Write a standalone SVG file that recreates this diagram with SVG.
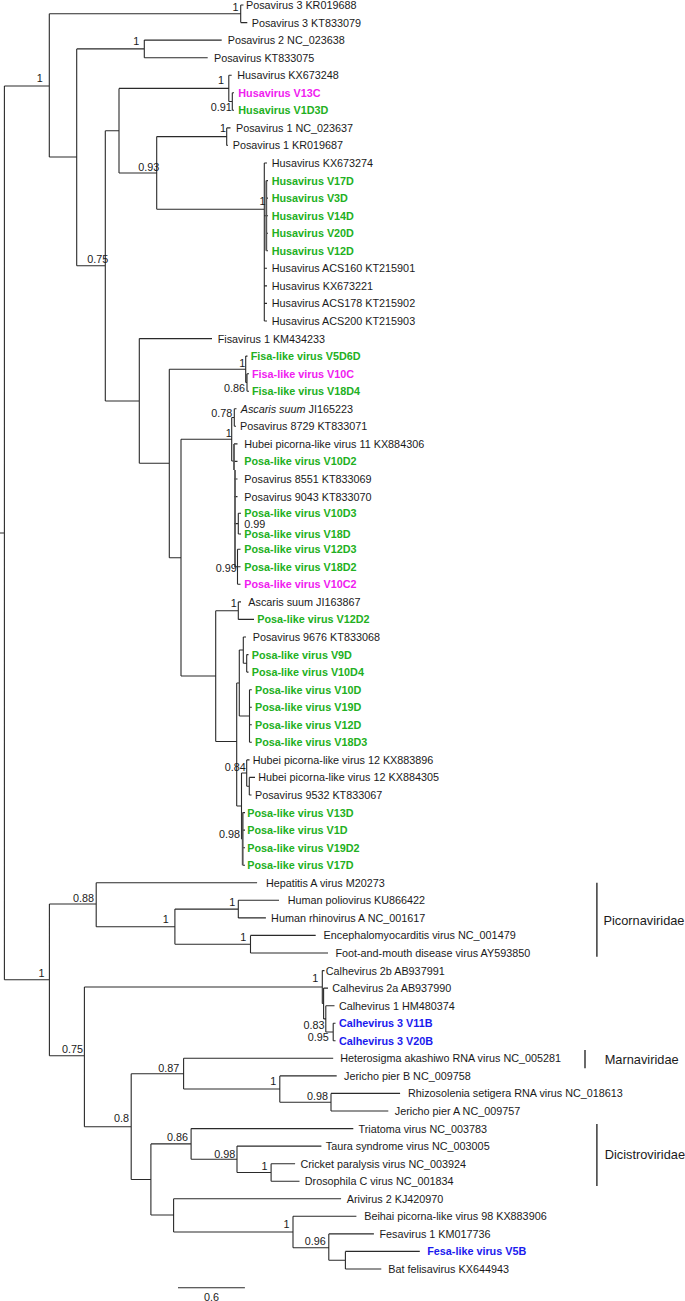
<svg xmlns="http://www.w3.org/2000/svg" width="685" height="1301" viewBox="0 0 685 1301">
<style>
text{font-family:"Liberation Sans",Arial,Helvetica,sans-serif;font-size:10.8px;fill:#1a1a1a}
.g{fill:#22b022;font-weight:bold}
.m{fill:#f020f0;font-weight:bold}
.b{fill:#1a1aee;font-weight:bold}
.s{text-anchor:end}
.fam{font-size:12.8px}
.br{fill:none;stroke:#2a2a2a;stroke-width:1.1}
.thick{fill:none;stroke:#555;stroke-width:1.8}
.bk{fill:none;stroke:#1a1a1a;stroke-width:1.3}
</style>
<rect width="685" height="1301" fill="#fff"/>
<g id="connectors">
<path class="br" d="
M0 533 H4.4 M4.4 86 V979.8
M4.4 86 H49.3 M49.3 13.7 V157
M49.3 13.7 H240.7 M240.7 5 V22.6 M240.7 5 H243.5 M240.7 22.6 H247.3
M49.3 157 H76.7 M76.7 48.9 V265.7
M76.7 48.9 H144.3 M144.3 40.1 V57.7 M144.3 40.1 H221.7 M144.3 57.7 H207.7
M76.7 265.7 H105.3 M105.3 130.7 V401
M105.3 130.7 H119 M119 88.4 V173
M119 88.4 H228.8 M228.8 75.2 V101.5 M228.8 75.2 H231.7
M228.8 101.5 H232.3 M232.3 92.8 V110.3 M232.3 92.8 H234 M232.3 110.3 H234
M119 173 H156.7 M156.7 136.6 V209.3
M156.7 136.6 H226.7 M226.7 127.9 V145.4 M226.7 127.9 H230.5 M226.7 145.4 H227.8
M156.7 209.3 H264.3 M264.3 163 V321
M264.3 163 H267 M264.3 215.7 H266.3 M266.3 180.6 H268 M266.3 198.1 H268 M266.3 215.7 H268 M266.3 233.2 H268 M266.3 250.8 H268
M264.3 268.3 H267 M264.3 285.9 H267 M264.3 303.4 H267 M264.3 321 H267
M105.3 401 H139.3 M139.3 338.6 V463.3 M139.3 338.6 H212
M139.3 463.3 H169.3 M169.3 369.3 V557.7
M169.3 369.3 H245.7 M245.7 356.1 V382.5 M245.7 356.1 H247.5
M245.7 382.5 H247 M247 373.7 V391.2 M247 373.7 H249 M247 391.2 H249
M169.3 557.7 H181 M181 439.3 V676
M181 439.3 H231.7 M231.7 417.5 V461
M231.7 417.5 H234.3 M234.3 408.8 V426.3 M234.3 408.8 H236.5 M234.3 426.3 H236
M231.7 461 H234 M234 443.9 H237.5 M234 461.4 H237.5 M234 479 H237.5 M234 496.6 H237.5
M234 523.6 H238.3 M238.3 513.3 V534 M238.3 513.3 H241 M238.3 534 H241
M234 566.8 H237.5 M237.5 549.2 V584.3 M237.5 549.2 H240.5 M237.5 566.8 H240.5 M237.5 584.3 H240.5
M181 676 H215.7 M215.7 610.7 V741.5
M215.7 610.7 H238.3 M238.3 601.9 V619.4 M238.3 601.9 H241 M238.3 619.4 H254
M215.7 741.5 H236.7 M236.7 683 V806
M236.7 683 H239.3 M239.3 650 V716
M239.3 650 H243.3 M243.3 637 V663.3 M243.3 637 H246
M243.3 663.3 H246.7 M246.7 654.6 V672.1 M246.7 654.6 H248.5 M246.7 672.1 H248.5
M239.3 716 H249.5 M249.5 689.7 V742.3 M249.5 689.7 H251.8 M249.5 707.2 H251.8 M249.5 724.8 H251.8 M249.5 742.3 H251.8
M236.7 806 H241.5 M241.5 773 V839
M241.5 773 H246.7 M246.7 759.9 V786.2 M246.7 759.9 H249.5
M246.7 786.2 H249.3 M249.3 777.4 V795 M249.3 777.4 H255 M249.3 795 H251.5
M241.5 839 H242.7 M242.7 812.6 H245 M242.7 830.1 H245 M242.7 847.7 H245 M242.7 865.2 H245
M4.4 979.8 H49.4 M49.4 904 V1055.7
M49.4 904 H96.2 M96.2 882.8 V926.7 M96.2 882.8 H257.1
M96.2 926.7 H174.9 M174.9 909.1 V944.2
M174.9 909.1 H238.3 M238.3 900.3 V917.9 M238.3 900.3 H279 M238.3 917.9 H265.9
M174.9 944.2 H250.5 M250.5 935.4 V953 M250.5 935.4 H315.7 M250.5 953 H328
M49.4 1055.7 H84.4 M84.4 987 V1126.7
M84.4 987 H322.3 M322.3 970.6 V1003.5 M322.3 970.6 H324.5
M322.3 1003.5 H323.6 M323.6 988.1 V1018.9 M323.6 988.1 H328
M323.6 1018.9 H325.8 M325.8 1005.7 V1032 M325.8 1005.7 H334.5
M325.8 1032 H333.2 M333.2 1023.2 V1040.8 M333.2 1023.2 H335.5 M333.2 1040.8 H335.5
M84.4 1126.7 H131.2 M131.2 1073.7 V1179.5
M131.2 1073.7 H183.6 M183.6 1058.3 V1089 M183.6 1058.3 H333.2
M183.6 1089 H279.8 M279.8 1075.9 V1102.2 M279.8 1075.9 H336.7
M279.8 1102.2 H331 M331 1093.4 V1111 M331 1093.4 H400.1 M331 1111 H388.3
M131.2 1179.5 H150.9 M150.9 1143.9 V1215
M150.9 1143.9 H191.1 M191.1 1128.6 V1159.3 M191.1 1128.6 H353.3
M191.1 1159.3 H237 M237 1146.1 V1172.5 M237 1146.1 H321.4
M237 1172.5 H271.1 M271.1 1163.7 V1181.2 M271.1 1163.7 H295.1 M271.1 1181.2 H299.5
M150.9 1215 H173.6 M173.6 1198.8 V1232 M173.6 1198.8 H341.1
M173.6 1232 H293 M293 1216.3 V1247.7 M293 1216.3 H356.4
M293 1247.7 H328.8 M328.8 1233.9 V1260.2 M328.8 1233.9 H373.9
M328.8 1260.2 H345.4 M345.4 1251.4 V1269 M345.4 1251.4 H419.8 M345.4 1269 H381.3
"/>
<path class="thick" d="M266.3 180.6 V250.8 M234 443.9 V470 M235 470 V566.8 M242.7 812.6 V865.2"/>
</g>
<g id="support-labels">
<text class="s" x="42.7" y="81.6">1</text>
<text class="s" x="238.5" y="10.9">1</text>
<text class="s" x="139.3" y="44.6">1</text>
<text class="s" x="224" y="83.9">1</text>
<text class="s" x="231.7" y="111.2">0.91</text>
<text class="s" x="226" y="131.6">1</text>
<text class="s" x="159.3" y="170.6">0.93</text>
<text class="s" x="265.5" y="204.9">1</text>
<text class="s" x="108.3" y="262.9">0.75</text>
<text class="s" x="245.2" y="367.2">1</text>
<text class="s" x="245" y="391.6">0.86</text>
<text class="s" x="232.3" y="416.6">0.78</text>
<text class="s" x="231.7" y="437.2">1</text>
<text x="244.3" y="527.6">0.99</text>
<text class="s" x="236.7" y="571.9">0.99</text>
<text class="s" x="236.7" y="607.2">1</text>
<text class="s" x="245.7" y="770.6">0.84</text>
<text class="s" x="240" y="838.2">0.98</text>
<text class="s" x="44.6" y="976.6">1</text>
<text class="s" x="94" y="902.2">0.88</text>
<text class="s" x="168.8" y="923.2">1</text>
<text class="s" x="235.2" y="905.6">1</text>
<text class="s" x="246.2" y="940.6">1</text>
<text class="s" x="318.3" y="981.9">1</text>
<text class="s" x="324.4" y="1028.9">0.83</text>
<text class="s" x="328.8" y="1041.2">0.95</text>
<text class="s" x="83.1" y="1053.2">0.75</text>
<text class="s" x="179.3" y="1071.6">0.87</text>
<text class="s" x="276.3" y="1084.6">1</text>
<text class="s" x="328" y="1099.6">0.98</text>
<text class="s" x="129" y="1122.2">0.8</text>
<text class="s" x="188" y="1141.2">0.86</text>
<text class="s" x="235.2" y="1157.9">0.98</text>
<text class="s" x="267.6" y="1169.9">1</text>
<text class="s" x="289.5" y="1227.9">1</text>
<text class="s" x="325.8" y="1244.9">0.96</text>
</g>
<g id="leaf-01"><text x="246" y="8.9">Posavirus 3 KR019688</text></g>
<g id="leaf-02"><text x="251.7" y="26.5">Posavirus 3 KT833079</text></g>
<g id="leaf-03"><text x="227.7" y="44">Posavirus 2 NC_023638</text></g>
<g id="leaf-04"><text x="214" y="61.6">Posavirus KT833075</text></g>
<g id="leaf-05"><text x="237.3" y="79.1">Husavirus KX673248</text></g>
<g id="leaf-06"><text class="m" x="238.3" y="96.7">Husavirus V13C</text></g>
<g id="leaf-07"><text class="g" x="238.3" y="114.2">Husavirus V1D3D</text></g>
<g id="leaf-08"><text x="236" y="131.8">Posavirus 1 NC_023637</text></g>
<g id="leaf-09"><text x="232.7" y="149.3">Posavirus 1 KR019687</text></g>
<g id="leaf-10"><text x="271.7" y="166.9">Husavirus KX673274</text></g>
<g id="leaf-11"><text class="g" x="271.7" y="184.5">Husavirus V17D</text></g>
<g id="leaf-12"><text class="g" x="271.7" y="202">Husavirus V3D</text></g>
<g id="leaf-13"><text class="g" x="271.7" y="219.6">Husavirus V14D</text></g>
<g id="leaf-14"><text class="g" x="271.7" y="237.1">Husavirus V20D</text></g>
<g id="leaf-15"><text class="g" x="271.7" y="254.7">Husavirus V12D</text></g>
<g id="leaf-16"><text x="271.7" y="272.2">Husavirus ACS160 KT215901</text></g>
<g id="leaf-17"><text x="271.7" y="289.8">Husavirus KX673221</text></g>
<g id="leaf-18"><text x="271.7" y="307.3">Husavirus ACS178 KT215902</text></g>
<g id="leaf-19"><text x="271.7" y="324.9">Husavirus ACS200 KT215903</text></g>
<g id="leaf-20"><text x="217.7" y="342.5">Fisavirus 1 KM434233</text></g>
<g id="leaf-21"><text class="g" x="250.7" y="360">Fisa-like virus V5D6D</text></g>
<g id="leaf-22"><text class="m" x="252" y="377.6">Fisa-like virus V10C</text></g>
<g id="leaf-23"><text class="g" x="252" y="395.1">Fisa-like virus V18D4</text></g>
<g id="leaf-24"><text x="240.7" y="412.7"><tspan font-style="italic">Ascaris suum</tspan> JI165223</text></g>
<g id="leaf-25"><text x="240" y="430.2">Posavirus 8729 KT833071</text></g>
<g id="leaf-26"><text x="244.3" y="447.8">Hubei picorna-like virus 11 KX884306</text></g>
<g id="leaf-27"><text class="g" x="244.3" y="465.3">Posa-like virus V10D2</text></g>
<g id="leaf-28"><text x="244.3" y="482.9">Posavirus 8551 KT833069</text></g>
<g id="leaf-29"><text x="244.3" y="500.5">Posavirus 9043 KT833070</text></g>
<g id="leaf-30"><text class="g" x="244.3" y="517.2">Posa-like virus V10D3</text></g>
<g id="leaf-31"><text class="g" x="244.3" y="537.9">Posa-like virus V18D</text></g>
<g id="leaf-32"><text class="g" x="244.3" y="553.1">Posa-like virus V12D3</text></g>
<g id="leaf-33"><text class="g" x="244.3" y="570.7">Posa-like virus V18D2</text></g>
<g id="leaf-34"><text class="m" x="244.3" y="588.2">Posa-like virus V10C2</text></g>
<g id="leaf-35"><text x="248.3" y="605.8">Ascaris suum JI163867</text></g>
<g id="leaf-36"><text class="g" x="257.3" y="623.3">Posa-like virus V12D2</text></g>
<g id="leaf-37"><text x="252.7" y="640.9">Posavirus 9676 KT833068</text></g>
<g id="leaf-38"><text class="g" x="251.7" y="658.5">Posa-like virus V9D</text></g>
<g id="leaf-39"><text class="g" x="251.7" y="676">Posa-like virus V10D4</text></g>
<g id="leaf-40"><text class="g" x="255" y="693.6">Posa-like virus V10D</text></g>
<g id="leaf-41"><text class="g" x="255" y="711.1">Posa-like virus V19D</text></g>
<g id="leaf-42"><text class="g" x="255" y="728.7">Posa-like virus V12D</text></g>
<g id="leaf-43"><text class="g" x="255" y="746.2">Posa-like virus V18D3</text></g>
<g id="leaf-44"><text x="252.7" y="763.8">Hubei picorna-like virus 12 KX883896</text></g>
<g id="leaf-45"><text x="258.3" y="781.3">Hubei picorna-like virus 12 KX884305</text></g>
<g id="leaf-46"><text x="255" y="798.9">Posavirus 9532 KT833067</text></g>
<g id="leaf-47"><text class="g" x="247.3" y="816.5">Posa-like virus V13D</text></g>
<g id="leaf-48"><text class="g" x="247.3" y="834">Posa-like virus V1D</text></g>
<g id="leaf-49"><text class="g" x="247.3" y="851.6">Posa-like virus V19D2</text></g>
<g id="leaf-50"><text class="g" x="247.3" y="869.1">Posa-like virus V17D</text></g>
<g id="leaf-51"><text x="265.9" y="886.7">Hepatitis A virus M20273</text></g>
<g id="leaf-52"><text x="287.7" y="904.2">Human poliovirus KU866422</text></g>
<g id="leaf-53"><text x="271.1" y="921.8">Human rhinovirus A NC_001617</text></g>
<g id="leaf-54"><text x="323.6" y="939.3">Encephalomyocarditis virus NC_001479</text></g>
<g id="leaf-55"><text x="335.4" y="956.9">Foot-and-mouth disease virus AY593850</text></g>
<g id="leaf-56"><text x="325.8" y="974.5">Calhevirus 2b AB937991</text></g>
<g id="leaf-57"><text x="332.3" y="992">Calhevirus 2a AB937990</text></g>
<g id="leaf-58"><text x="338.9" y="1009.6">Calhevirus 1 HM480374</text></g>
<g id="leaf-59"><text class="b" x="338.9" y="1027.1">Calhevirus 3 V11B</text></g>
<g id="leaf-60"><text class="b" x="338.9" y="1044.7">Calhevirus 3 V20B</text></g>
<g id="leaf-61"><text x="340.2" y="1062.2">Heterosigma akashiwo RNA virus NC_005281</text></g>
<g id="leaf-62"><text x="344.1" y="1079.8">Jericho pier B NC_009758</text></g>
<g id="leaf-63"><text x="408" y="1097.3">Rhizosolenia setigera RNA virus NC_018613</text></g>
<g id="leaf-64"><text x="394.8" y="1114.9">Jericho pier A NC_009757</text></g>
<g id="leaf-65"><text x="358.5" y="1132.5">Triatoma virus NC_003783</text></g>
<g id="leaf-66"><text x="325.8" y="1150">Taura syndrome virus NC_003005</text></g>
<g id="leaf-67"><text x="300.4" y="1167.6">Cricket paralysis virus NC_003924</text></g>
<g id="leaf-68"><text x="304.8" y="1185.1">Drosophila C virus NC_001834</text></g>
<g id="leaf-69"><text x="346.7" y="1202.7">Arivirus 2 KJ420970</text></g>
<g id="leaf-70"><text x="364.2" y="1220.2">Beihai picorna-like virus 98 KX883906</text></g>
<g id="leaf-71"><text x="379.5" y="1237.8">Fesavirus 1 KM017736</text></g>
<g id="leaf-72"><text class="b" x="427.2" y="1255.3">Fesa-like virus V5B</text></g>
<g id="leaf-73"><text x="388.3" y="1272.9">Bat felisavirus KX644943</text></g>
<g id="family-picornaviridae"><path class="bk" d="M596.9 882.7 V956.7"/><text class="fam" x="603.4" y="925.3">Picornaviridae</text></g>
<g id="family-marnaviridae"><path class="bk" d="M585 1050 V1068.3"/><text class="fam" x="604.7" y="1063.9">Marnaviridae</text></g>
<g id="family-dicistroviridae"><path class="bk" d="M596.9 1124 V1186"/><text class="fam" x="604.7" y="1158.9">Dicistroviridae</text></g>
<g id="scale-bar"><path class="br" d="M178 1287.7 H244.9"/><text x="211.5" y="1300.5" text-anchor="middle">0.6</text></g>
</svg>
